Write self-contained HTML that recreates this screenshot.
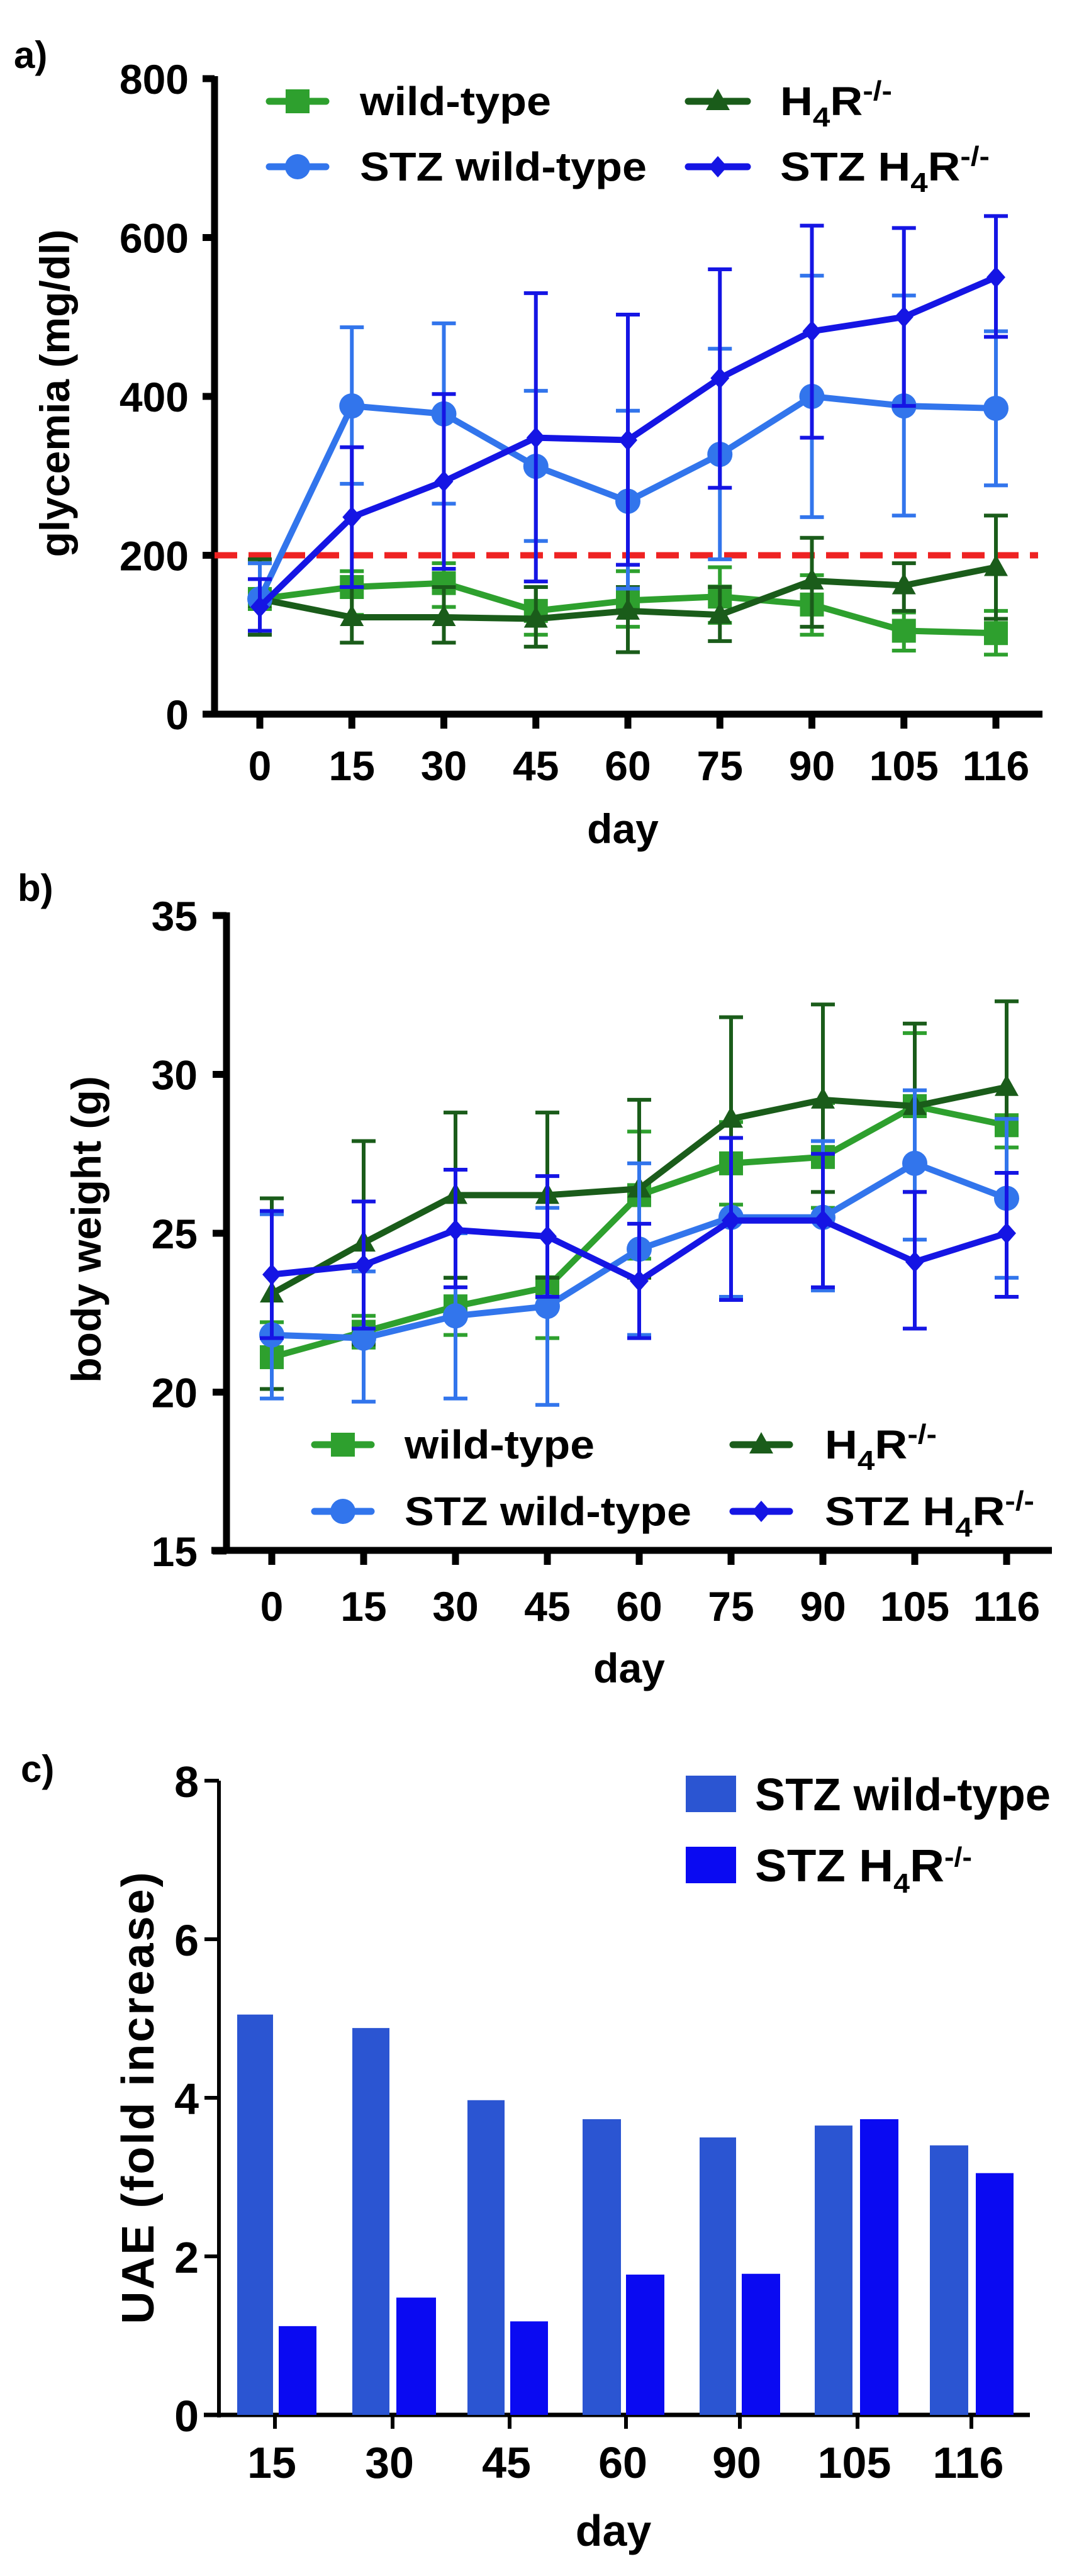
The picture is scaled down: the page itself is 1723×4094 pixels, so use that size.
<!DOCTYPE html>
<html><head><meta charset="utf-8"><style>
html,body{margin:0;padding:0;background:#fff}
svg{display:block}
text{font-family:"Liberation Sans Narrow","Liberation Sans",sans-serif;font-weight:bold;fill:#000}
</style></head><body>
<svg id="s" xmlns="http://www.w3.org/2000/svg" width="1723" height="4094" viewBox="0 0 1723 4094"></svg>
<script>
const S=document.getElementById('s');let out='';
function add(x){out+=x;}
const C={wt:'#2ea02e',h4:'#1a5c1a',swt:'#3275ec',sh4:'#1515e4'};
function marker(t,x,y,c,sz){
 if(t=='sq')add(`<rect x="${x-19}" y="${y-19}" width="38" height="38" fill="${c}"/>`);
 if(t=='ci')add(`<circle cx="${x}" cy="${y}" r="20" fill="${c}"/>`);
 if(t=='tr')add(`<polygon points="${x},${y-20} ${x+19},${y+14} ${x-19},${y+14}" fill="${c}"/>`);
 if(t=='di')add(`<polygon points="${x},${y-17} ${x+15},${y} ${x},${y+17} ${x-15},${y}" fill="${c}"/>`);
}
function series(X,Y,v,top,bot,c,m,lw){
 for(let i=0;i<v.length;i++){const x=X(i);
  add(`<line x1="${x}" y1="${Y(top[i])}" x2="${x}" y2="${Y(bot[i])}" stroke="${c}" stroke-width="6"/>`);
  add(`<line x1="${x-19}" y1="${Y(top[i])}" x2="${x+19}" y2="${Y(top[i])}" stroke="${c}" stroke-width="6"/>`);
  add(`<line x1="${x-19}" y1="${Y(bot[i])}" x2="${x+19}" y2="${Y(bot[i])}" stroke="${c}" stroke-width="6"/>`);}
 add(`<polyline fill="none" stroke="${c}" stroke-width="${lw}" stroke-linejoin="round" points="${v.map((a,i)=>X(i)+','+Y(a)).join(' ')}"/>`);
 v.forEach((a,i)=>marker(m,X(i),Y(a),c));
}
function legItem(x1,x2,y,c,m,tx,label,len){
 add(`<line x1="${x1}" y1="${y}" x2="${x2}" y2="${y}" stroke="${c}" stroke-width="11" stroke-linecap="round"/>`);
 marker(m,(x1+x2)/2,y,c);
 add(`<text x="${tx}" y="${y+22}" font-size="64" textLength="${len}" lengthAdjust="spacingAndGlyphs">${label}</text>`);
}
const H4='H<tspan font-size="44" dy="18">4</tspan><tspan dy="-18">R</tspan><tspan font-size="44" dy="-24">-/-</tspan>';
const days=['0','15','30','45','60','75','90','105','116'];
// ===== a =====
{const X=i=>413+146.25*i,Y=v=>1135-v*1.2625;
add(`<text x="22" y="108" font-size="60" font-family="Liberation Sans">a)</text>`);
add(`<line x1="341" y1="121" x2="341" y2="1139" stroke="#000" stroke-width="11"/>`);
add(`<line x1="336" y1="1135" x2="1657" y2="1135" stroke="#000" stroke-width="11"/>`);
[0,200,400,600,800].forEach(v=>{add(`<line x1="322" y1="${Y(v)}" x2="341" y2="${Y(v)}" stroke="#000" stroke-width="11"/>`);
 add(`<text x="300" y="${Y(v)+24}" font-size="66" text-anchor="end">${v}</text>`);});
days.forEach((d,i)=>{add(`<line x1="${X(i)}" y1="1135" x2="${X(i)}" y2="1158" stroke="#000" stroke-width="11"/>`);
 add(`<text x="${X(i)}" y="1240" font-size="66" text-anchor="middle">${d}</text>`);});
add(`<text x="990" y="1340" font-size="66" text-anchor="middle">day</text>`);
add(`<text transform="translate(110,625) rotate(-90)" font-size="66" text-anchor="middle" font-family="Liberation Sans">glycemia (mg/dl)</text>`);
add(`<line x1="341" y1="${Y(200)}" x2="1650" y2="${Y(200)}" stroke="#ee2222" stroke-width="10" stroke-dasharray="36 18"/>`);
series(X,Y,[145,160,165,130,143,148,138,105,102],[190,180,190,160,180,185,175,128,130],[100,125,135,100,110,115,100,80,75],C.wt,'sq',10);
series(X,Y,[145,122,122,120,130,125,168,162,185],[195,160,160,160,160,160,222,190,250],[100,90,90,85,78,92,110,130,120],C.h4,'tr',10);
series(X,Y,[145,388,378,312,268,327,400,388,385],[190,487,492,407,382,460,552,527,482],[105,290,265,218,158,195,248,250,288],C.swt,'ci',10);
series(X,Y,[135,248,293,348,345,423,482,500,550],[170,336,403,530,503,560,615,612,627],[105,160,183,167,188,285,348,388,475],C.sh4,'di',10);
legItem(428,518,161,C.wt,'sq',572,'wild-type',304);
legItem(1094,1188,161,C.h4,'tr',1240,H4,178);
legItem(428,518,265,C.swt,'ci',572,'STZ wild-type',456);
legItem(1094,1188,265,C.sh4,'di',1240,'STZ '+H4,333);
}
// ===== b =====
{const X=i=>432+146*i,Y=v=>1455+(35-v)*50.5;
add(`<text x="28" y="1432" font-size="60" font-family="Liberation Sans">b)</text>`);
add(`<line x1="360" y1="1450" x2="360" y2="2469" stroke="#000" stroke-width="11"/>`);
add(`<line x1="336" y1="2464" x2="1672" y2="2464" stroke="#000" stroke-width="11"/>`);
[15,20,25,30,35].forEach(v=>{add(`<line x1="338" y1="${Y(v)}" x2="360" y2="${Y(v)}" stroke="#000" stroke-width="11"/>`);
 add(`<text x="314" y="${Y(v)+24}" font-size="66" text-anchor="end">${v}</text>`);});
days.forEach((d,i)=>{add(`<line x1="${X(i)}" y1="2464" x2="${X(i)}" y2="2487" stroke="#000" stroke-width="11"/>`);
 add(`<text x="${X(i)}" y="2576" font-size="66" text-anchor="middle">${d}</text>`);});
add(`<text x="1000" y="2674" font-size="66" text-anchor="middle">day</text>`);
add(`<text transform="translate(160,1954) rotate(-90)" font-size="66" text-anchor="middle" font-family="Liberation Sans">body weight (g)</text>`);
series(X,Y,[21.1,21.9,22.7,23.3,26.2,27.2,27.4,29.0,28.4],[22.2,22.4,23.6,23.6,28.2,28.5,29.1,31.3,28.7],[20.1,21.4,21.8,21.7,24.2,25.9,25.8,28.8,27.7],C.wt,'sq',10);
series(X,Y,[23.1,24.7,26.2,26.2,26.4,28.6,29.2,29.0,29.6],[26.1,27.9,28.8,28.8,29.2,31.8,32.2,31.6,32.3],[20.1,21.5,23.6,23.6,23.6,25.4,26.3,26.3,26.9],C.h4,'tr',10);
series(X,Y,[21.8,21.7,22.4,22.7,24.5,25.5,25.5,27.2,26.1],[25.6,23.8,25.0,25.8,27.2,28.0,27.9,29.5,28.6],[19.8,19.7,19.8,19.6,21.8,23.0,23.2,24.8,23.6],C.swt,'ci',10);
series(X,Y,[23.7,24.0,25.1,24.9,23.5,25.4,25.4,24.1,25.0],[25.7,26.0,27.0,26.8,25.3,28.0,27.5,26.3,26.9],[21.7,22.0,23.3,23.0,21.7,22.9,23.3,22.0,23.0],C.sh4,'di',10);
legItem(500,590,2296,C.wt,'sq',643,'wild-type',302);
legItem(1165,1255,2296,C.h4,'tr',1311,H4,178);
legItem(500,590,2402,C.swt,'ci',643,'STZ wild-type',456);
legItem(1165,1255,2402,C.sh4,'di',1311,'STZ '+H4,333);
}
// ===== c =====
{const Y=v=>3838-v*126;
add(`<text x="33" y="2832" font-size="60" font-family="Liberation Sans">c)</text>`);
add(`<line x1="348" y1="2830" x2="348" y2="3842" stroke="#000" stroke-width="6"/>`);
add(`<line x1="324" y1="3838" x2="1637" y2="3838" stroke="#000" stroke-width="7"/>`);
[0,2,4,6,8].forEach(v=>{add(`<line x1="325" y1="${Y(v)}" x2="348" y2="${Y(v)}" stroke="#000" stroke-width="6"/>`);
 add(`<text x="316" y="${Y(v)+26}" font-size="70" text-anchor="end">${v}</text>`);});
const g=[[377,434,443,503,5.05,1.12],[560,619,630,693,4.88,1.48],[743,802,811,871,3.97,1.18],[926,987,995,1056,3.73,1.77],[1112,1170,1179,1240,3.5,1.78],[1295,1355,1367,1428,3.65,3.73],[1478,1539,1551,1611,3.4,3.05]];
g.forEach(b=>{add(`<rect x="${b[0]}" y="${Y(b[4])}" width="${b[1]-b[0]}" height="${b[4]*126}" fill="#2b55d2"/>`);
 add(`<rect x="${b[2]}" y="${Y(b[5])}" width="${b[3]-b[2]}" height="${b[5]*126}" fill="#0a0af2"/>`);});
const tk=[437,624,810,995,1176,1363,1544],lb=['15','30','45','60','90','105','116'];
tk.forEach((x,i)=>{add(`<line x1="${x}" y1="3838" x2="${x}" y2="3860" stroke="#000" stroke-width="6"/>`);
 add(`<text x="${x-5}" y="3938" font-size="70" text-anchor="middle">${lb[i]}</text>`);});
add(`<text x="975" y="4046" font-size="70" text-anchor="middle">day</text>`);
add(`<text transform="translate(244,3333) rotate(-90)" font-size="72" text-anchor="middle" font-family="Liberation Sans" letter-spacing="3">UAE (fold increase)</text>`);
add(`<rect x="1090" y="2822" width="80" height="58" fill="#2b55d2"/><rect x="1090" y="2935" width="80" height="58" fill="#0a0af2"/>`);
add(`<text x="1200" y="2877" font-size="72" textLength="470" lengthAdjust="spacingAndGlyphs">STZ wild-type</text>`);
add(`<text x="1200" y="2990" font-size="72" textLength="345" lengthAdjust="spacingAndGlyphs">STZ ${H4}</text>`);
}
S.innerHTML=out;
</script>
</body></html>
